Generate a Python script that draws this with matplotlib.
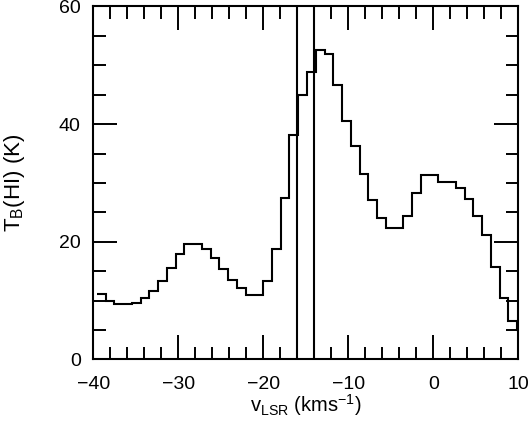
import matplotlib
matplotlib.use('Agg')
import matplotlib.pyplot as plt
from matplotlib.ticker import MultipleLocator

plt.rcParams['font.family'] = ['Liberation Sans', 'DejaVu Sans']
plt.rcParams['mathtext.fontset'] = 'custom'
plt.rcParams['mathtext.rm'] = 'Liberation Sans'
plt.rcParams['mathtext.it'] = 'Liberation Sans'
plt.rcParams['mathtext.default'] = 'regular'

# channel centres (km/s) and brightness temperature (K)
velocity = [-39.07, -38.03, -37.00, -35.97, -34.94, -33.91, -32.88, -31.85,
            -30.82, -29.79, -28.76, -27.73, -26.70, -25.67, -24.64, -23.61,
            -22.58, -21.55, -20.52, -19.49, -18.46, -17.43, -16.40, -15.37,
            -14.34, -13.31, -12.28, -11.25, -10.22, -9.19, -8.16, -7.13,
            -6.10, -5.07, -4.04, -3.01, -1.98, -0.95, 0.08, 1.11,
            2.14, 3.17, 4.20, 5.23, 6.26, 7.29, 8.32, 9.35, 10.38]
tb = [11.2, 10.0, 9.4, 9.4, 9.6, 10.4, 11.7, 13.3,
      15.6, 17.9, 19.55, 19.66, 18.7, 17.2, 15.3, 13.45,
      12.2, 10.9, 10.9, 13.3, 18.7, 27.5, 38.1, 44.95,
      48.8, 52.6, 52.0, 46.6, 40.5, 36.2, 31.5, 27.1,
      24.0, 22.3, 22.3, 24.4, 28.3, 31.4, 31.3, 30.15,
      30.15, 29.1, 27.2, 24.4, 21.1, 15.75, 10.4, 6.5, 5.0]
marker_lines = [-16, -14]

# channel edges from the centres
chan = velocity[1] - velocity[0]
edges = [v - chan / 2 for v in velocity] + [velocity[-1] + chan / 2]

fig = plt.figure(figsize=(5.3, 4.33), dpi=100)
ax = fig.add_axes([0.176, 0.170, 0.802, 0.815])

ax.stairs(tb, edges, baseline=None, color='black', lw=1.5)
for v in marker_lines:
    ax.axvline(v, color='black', lw=1.5)

ax.set_xlim(-40, 10)
ax.set_ylim(0, 60)
ax.xaxis.set_major_locator(MultipleLocator(10))
ax.xaxis.set_minor_locator(MultipleLocator(2))
ax.yaxis.set_major_locator(MultipleLocator(20))
ax.yaxis.set_minor_locator(MultipleLocator(5))
ax.tick_params(which='both', direction='in', top=True, right=True,
               width=1.4, labelsize=14)
ax.tick_params(which='major', length=17)
ax.tick_params(which='minor', length=9)
ax.tick_params(axis='x', which='major', pad=12)
ax.tick_params(axis='y', which='major', pad=9)
for s in ax.spines.values():
    s.set_linewidth(1.5)

ax.set_xlabel(r'v$_{\rm LSR}$ (kms$^{-1}$)', fontsize=14.5)
ax.set_ylabel(r'T$_{\rm B}$(HI) (K)', fontsize=16)
ax.xaxis.set_label_coords(0.5, -0.094)
ax.yaxis.set_label_coords(-0.155, 0.5)

fig.savefig('out.png', dpi=100)
